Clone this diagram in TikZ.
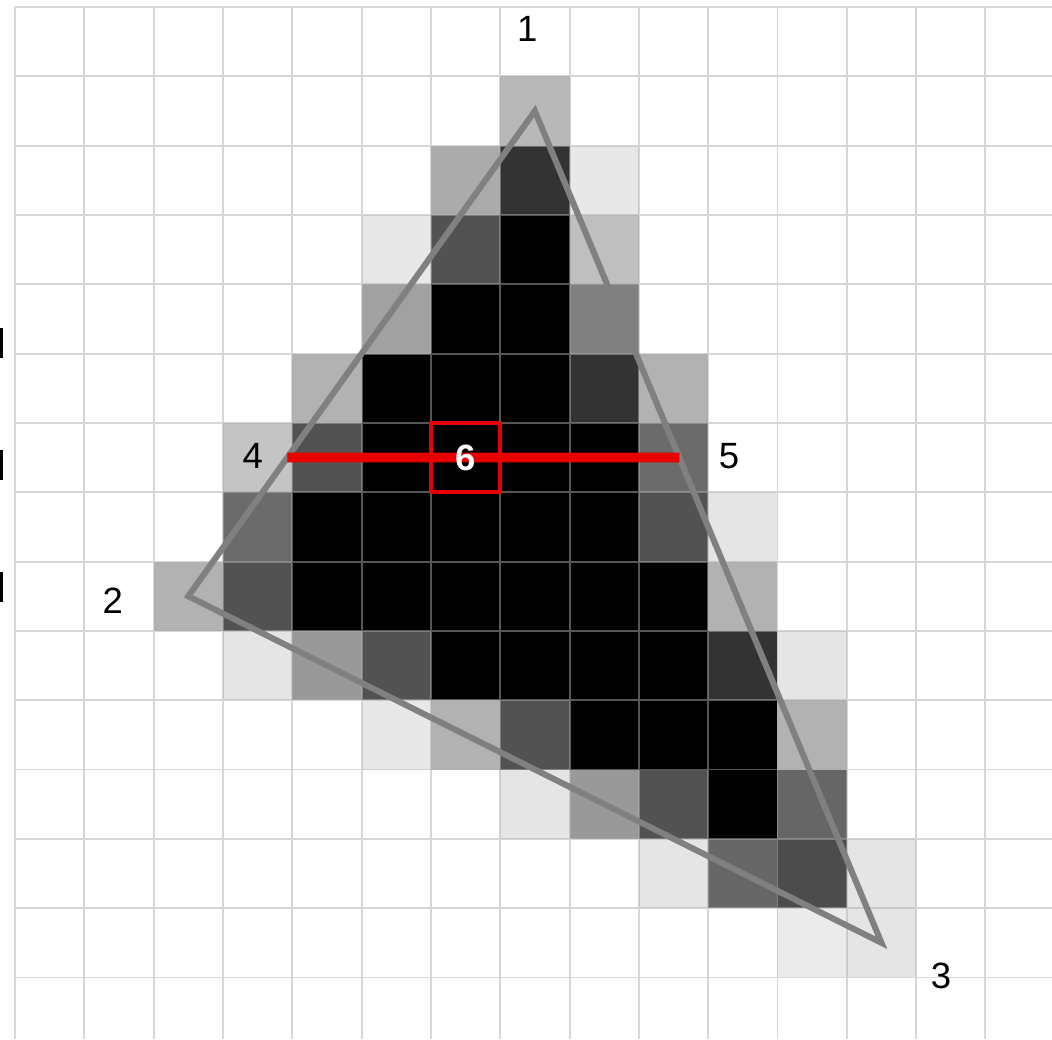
\documentclass[tikz,border=0pt]{standalone}
\usepackage{fontspec}
\setmainfont{Liberation Sans}
\usepackage{tikz}
\usetikzlibrary{calc}
\definecolor{gridgray}{RGB}{175,175,175}
\definecolor{edgegray}{RGB}{128,128,128}
\definecolor{scanred}{RGB}{230,0,0}

\begin{document}
\begin{tikzpicture}[x=1cm,y=1cm,
  lbl/.style={font=\fontsize{15}{18}\selectfont, inner sep=0},
  gridline/.style={gridgray, draw opacity=.5, line width=.8pt},
  edge/.style={edgegray, line width=2.5pt},
  scan/.style={scanred, line width=4pt}]
\useasboundingbox (-0.216,0.101) rectangle (14.96,-14.89);
\foreach \y in {-4.63,-6.39,-8.15} \fill[black] (-0.216,\y) rectangle ++(0.045,-0.44);
\foreach \c/\r/\s in {7/1/28, 6/2/33, 7/2/80, 8/2/9, 5/3/9, 6/3/68, 8/3/25,
  5/4/37, 8/4/50, 4/5/30, 8/5/80, 9/5/30, 3/6/23, 4/6/68, 9/6/58,
  3/7/58, 9/7/68, 10/7/10, 2/8/30, 3/8/68, 10/8/30,
  3/9/10, 4/9/40, 5/9/68, 10/9/80, 11/9/10, 5/10/9, 6/10/30, 7/10/68, 11/10/30,
  7/11/10, 8/11/40, 9/11/68, 11/11/60, 9/12/10, 10/12/60, 11/12/70, 12/12/10,
  11/13/8, 12/13/10}
  \fill[black!\s] (\c,-\r) rectangle ++(1,-1);
\foreach \c/\r in {7/3, 6/4, 7/4, 5/5, 6/5, 7/5, 5/6, 6/6, 7/6, 8/6,
  4/7, 5/7, 6/7, 7/7, 8/7, 4/8, 5/8, 6/8, 7/8, 8/8, 9/8,
  6/9, 7/9, 8/9, 9/9, 8/10, 9/10, 10/10, 10/11}
  \fill[black] (\c,-\r) rectangle ++(1,-1);
\draw[gridline] (0,-14.89) grid (14.96,0);
\coordinate (p1) at (7.5,-1.5);
\coordinate (p2) at (2.5,-8.5);
\coordinate (p3) at (12.5,-13.5);
\draw[edge] (p1)--(p2)--(p3)--cycle;
\coordinate (p4) at ($(p1)!5/7!(p2)$);
\coordinate (p5) at ($(p1)!5/12!(p3)$);
\draw[scan] (p4)--(p5);
\node[draw=scanred, line width=1.6pt, minimum size=1cm, inner sep=0, text=white,
  font=\fontsize{15}{18}\selectfont\bfseries] (p6) at (6.5,-6.5) {6};
\node[lbl] (n1) at (7.39,-0.32) {1};
\node[lbl] (n2) at (1.41,-8.56) {2};
\node[lbl] (n3) at (13.36,-13.98) {3};
\node[lbl] (n4) at (3.43,-6.48) {4};
\node[lbl] (n5) at (10.3,-6.48) {5};
\end{tikzpicture}
\end{document}
